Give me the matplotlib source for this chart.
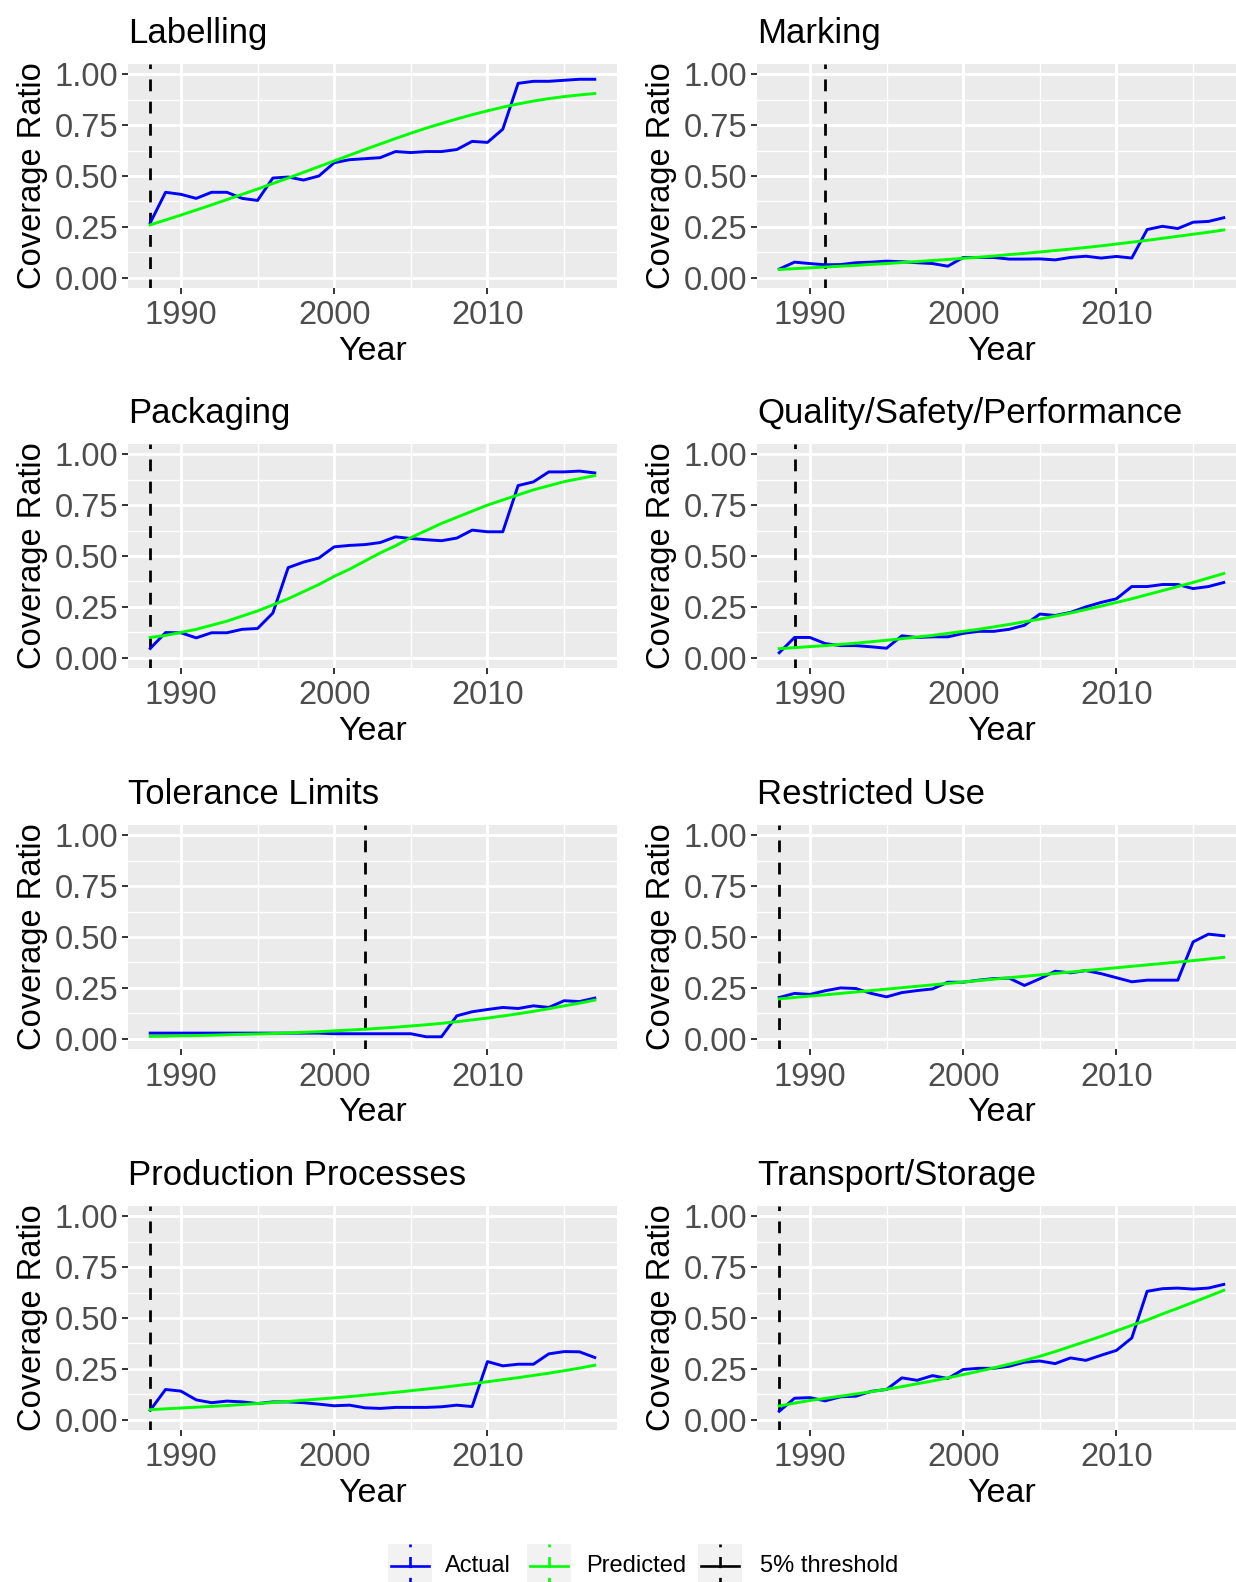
import matplotlib
matplotlib.use("Agg")
import matplotlib.pyplot as plt
from matplotlib.lines import Line2D
from matplotlib.patches import Rectangle

plt.rcParams['font.family'] = ['Liberation Sans', 'DejaVu Sans']
plt.rcParams['lines.scale_dashes'] = False

years = list(range(1988, 2018))

categories = ["Labelling", "Marking", "Packaging", "Quality/Safety/Performance",
              "Tolerance Limits", "Restricted Use", "Production Processes", "Transport/Storage"]

thresholds = [1988, 1991, 1988, 1989, 2002, 1988, 1988, 1988]

actual_labelling = [0.27, 0.42, 0.41, 0.39, 0.42, 0.42, 0.39, 0.38, 0.49, 0.495,
                    0.48, 0.50, 0.565, 0.58, 0.585, 0.59, 0.62, 0.615, 0.62, 0.62,
                    0.63, 0.67, 0.665, 0.73, 0.955, 0.965, 0.965, 0.97, 0.975, 0.975]
pred_labelling = [0.260, 0.284, 0.308, 0.333, 0.358, 0.384, 0.410, 0.436, 0.463, 0.490,
                  0.518, 0.546, 0.574, 0.602, 0.630, 0.657, 0.684, 0.710, 0.735, 0.758,
                  0.780, 0.801, 0.820, 0.838, 0.854, 0.868, 0.880, 0.890, 0.898, 0.905]

actual_marking = [0.043, 0.077, 0.07, 0.064, 0.065, 0.074, 0.077, 0.082, 0.079, 0.074,
                  0.07, 0.057, 0.10, 0.10, 0.10, 0.092, 0.092, 0.093, 0.088, 0.10,
                  0.106, 0.097, 0.105, 0.097, 0.237, 0.253, 0.242, 0.273, 0.277, 0.295]
pred_marking = [0.041, 0.045, 0.049, 0.053, 0.057, 0.061, 0.066, 0.070, 0.075, 0.080,
                0.085, 0.090, 0.096, 0.101, 0.107, 0.114, 0.120, 0.127, 0.134, 0.141,
                0.149, 0.157, 0.166, 0.175, 0.184, 0.194, 0.204, 0.214, 0.224, 0.235]

actual_packaging = [0.046, 0.124, 0.123, 0.098, 0.123, 0.123, 0.14, 0.144, 0.22, 0.443,
                    0.47, 0.49, 0.545, 0.552, 0.556, 0.566, 0.594, 0.586, 0.58, 0.575,
                    0.588, 0.627, 0.619, 0.619, 0.846, 0.864, 0.913, 0.913, 0.917, 0.908]
pred_packaging = [0.10, 0.11, 0.125, 0.14, 0.16, 0.18, 0.205, 0.23, 0.26, 0.29,
                  0.325, 0.36, 0.40, 0.435, 0.475, 0.515, 0.55, 0.59, 0.625, 0.66,
                  0.69, 0.72, 0.75, 0.775, 0.80, 0.825, 0.845, 0.865, 0.88, 0.895]

actual_quality = [0.025, 0.10, 0.10, 0.07, 0.06, 0.06, 0.054, 0.047, 0.108, 0.10,
                  0.103, 0.103, 0.12, 0.13, 0.13, 0.14, 0.16, 0.215, 0.208, 0.223,
                  0.25, 0.272, 0.29, 0.35, 0.35, 0.36, 0.36, 0.34, 0.35, 0.37]
pred_quality = [0.045, 0.05, 0.055, 0.06, 0.066, 0.072, 0.079, 0.086, 0.094, 0.102,
                0.11, 0.12, 0.13, 0.14, 0.152, 0.164, 0.177, 0.19, 0.205, 0.22,
                0.237, 0.254, 0.272, 0.29, 0.31, 0.33, 0.35, 0.37, 0.392, 0.414]

actual_tolerance = [0.028, 0.028, 0.028, 0.028, 0.028, 0.028, 0.028, 0.028, 0.028, 0.028,
                    0.028, 0.028, 0.025, 0.025, 0.025, 0.025, 0.025, 0.025, 0.01, 0.01,
                    0.113, 0.133, 0.144, 0.154, 0.149, 0.162, 0.154, 0.187, 0.183, 0.20]
pred_tolerance = [0.012, 0.013, 0.015, 0.016, 0.018, 0.020, 0.022, 0.024, 0.026, 0.029,
                  0.032, 0.035, 0.039, 0.043, 0.047, 0.052, 0.057, 0.063, 0.069, 0.076,
                  0.084, 0.093, 0.102, 0.112, 0.123, 0.135, 0.148, 0.162, 0.175, 0.19]

actual_restricted = [0.203, 0.223, 0.218, 0.236, 0.25, 0.247, 0.223, 0.206, 0.227, 0.237,
                     0.245, 0.278, 0.278, 0.288, 0.296, 0.298, 0.262, 0.295, 0.332, 0.324,
                     0.335, 0.32, 0.30, 0.28, 0.288, 0.288, 0.288, 0.476, 0.514, 0.506]
pred_restricted = [0.196, 0.203, 0.210, 0.216, 0.223, 0.230, 0.237, 0.244, 0.251, 0.258,
                   0.265, 0.272, 0.279, 0.286, 0.293, 0.300, 0.307, 0.314, 0.321, 0.328,
                   0.335, 0.342, 0.349, 0.356, 0.363, 0.370, 0.377, 0.384, 0.392, 0.400]

actual_production = [0.047, 0.149, 0.141, 0.098, 0.084, 0.092, 0.088, 0.08, 0.088, 0.088,
                     0.084, 0.077, 0.069, 0.072, 0.059, 0.056, 0.061, 0.061, 0.061, 0.064,
                     0.072, 0.065, 0.286, 0.265, 0.273, 0.273, 0.324, 0.335, 0.334, 0.306]
pred_production = [0.050, 0.054, 0.058, 0.062, 0.066, 0.070, 0.075, 0.080, 0.085, 0.090,
                   0.096, 0.102, 0.108, 0.114, 0.121, 0.128, 0.135, 0.143, 0.151, 0.159,
                   0.168, 0.177, 0.187, 0.197, 0.207, 0.218, 0.229, 0.241, 0.254, 0.268]

actual_transport = [0.042, 0.106, 0.109, 0.093, 0.113, 0.116, 0.14, 0.149, 0.206, 0.194,
                    0.217, 0.203, 0.247, 0.253, 0.253, 0.263, 0.283, 0.289, 0.276, 0.304,
                    0.292, 0.317, 0.341, 0.402, 0.631, 0.644, 0.647, 0.642, 0.647, 0.665]
pred_transport = [0.068, 0.082, 0.095, 0.105, 0.116, 0.127, 0.138, 0.150, 0.163, 0.177,
                  0.191, 0.206, 0.222, 0.238, 0.255, 0.273, 0.292, 0.312, 0.335, 0.36,
                  0.385, 0.41, 0.437, 0.464, 0.49, 0.52, 0.548, 0.577, 0.606, 0.636]

actual_series = [actual_labelling, actual_marking, actual_packaging, actual_quality,
                 actual_tolerance, actual_restricted, actual_production, actual_transport]
pred_series = [pred_labelling, pred_marking, pred_packaging, pred_quality,
               pred_tolerance, pred_restricted, pred_production, pred_transport]

x_ticks = [1990, 2000, 2010]
x_minor = [1995, 2005, 2015]
y_ticks = [0.0, 0.25, 0.5, 0.75, 1.0]
y_ticklabels = ["0.00", "0.25", "0.50", "0.75", "1.00"]
y_minor = [0.125, 0.375, 0.625, 0.875]

W, H = 1236, 1582
fig = plt.figure(figsize=(W / 100, H / 100), dpi=100)
fig.patch.set_facecolor('white')

col_x = [128, 757]
ax_w = 489
row_top = [64, 444, 825, 1206]
ax_h = 224

BLUE = '#0000FF'
GREEN = '#00FF00'
TICK_C = '#333333'
LAB_C = '#4D4D4D'

for i, cat in enumerate(categories):
    r, c = divmod(i, 2)
    x0 = col_x[c]
    top = row_top[r]
    ax = fig.add_axes([x0 / W, 1 - (top + ax_h) / H, ax_w / W, ax_h / H])
    ax.set_facecolor('#EBEBEB')
    for s in ax.spines.values():
        s.set_visible(False)
    ax.set_xlim(1986.55, 2018.45)
    ax.set_ylim(-0.05, 1.05)
    ax.set_xticks(x_ticks)
    ax.set_xticks(x_minor, minor=True)
    ax.set_yticks(y_ticks)
    ax.set_yticklabels(y_ticklabels)
    ax.set_yticks(y_minor, minor=True)
    ax.grid(which='major', color='white', linewidth=2.1)
    ax.grid(which='minor', color='white', linewidth=1.0)
    ax.set_axisbelow(True)
    ax.tick_params(which='major', length=4.0, width=1.4, color=TICK_C,
                   labelcolor=LAB_C, labelsize=23.5)
    ax.tick_params(axis='x', which='major', pad=5)
    ax.tick_params(axis='y', which='major', pad=3)
    ax.tick_params(which='minor', length=0)

    ax.axvline(thresholds[i], color='black', linewidth=2.0,
               linestyle=(2, (8.5, 7.5)), zorder=2)
    ax.plot(years, actual_series[i], color=BLUE, linewidth=2.1, zorder=3)
    ax.plot(years, pred_series[i], color=GREEN, linewidth=2.1, zorder=4)

    ax.set_title(cat, loc='left', fontsize=25, pad=15, color='black')
    ax.set_xlabel("Year", fontsize=24.5, labelpad=3, color='black')
    ax.set_ylabel("Coverage Ratio", fontsize=23.5, labelpad=5, color='black')

# legend (drawn at figure level, pixel layout)
def fx(px):
    return px / W

def fy(py):
    return 1 - py / H

legend_items = [("Actual", BLUE, 388, 445),
                ("Predicted", GREEN, 527, 586),
                ("5% threshold", 'black', 698, 760)]
box = 44
box_top = 1544
for label, col, bx, tx in legend_items:
    fig.add_artist(Rectangle((fx(bx), fy(box_top + box)), box / W, box / H,
                             transform=fig.transFigure, facecolor='#F2F2F2',
                             edgecolor='none'))
    cy = box_top + box / 2
    fig.add_artist(Line2D([fx(bx + 3), fx(bx + box - 3)], [fy(cy), fy(cy)],
                          transform=fig.transFigure, color=col, linewidth=1.9))
    fig.add_artist(Line2D([fx(bx + box / 2), fx(bx + box / 2)],
                          [fy(box_top), fy(box_top + box)],
                          transform=fig.transFigure, color=col, linewidth=1.9,
                          linestyle=(6, (8, 7))))
    fig.text(fx(tx), fy(cy), label, fontsize=17, color='black',
             ha='left', va='center')

fig.savefig("out.png", dpi=100)
